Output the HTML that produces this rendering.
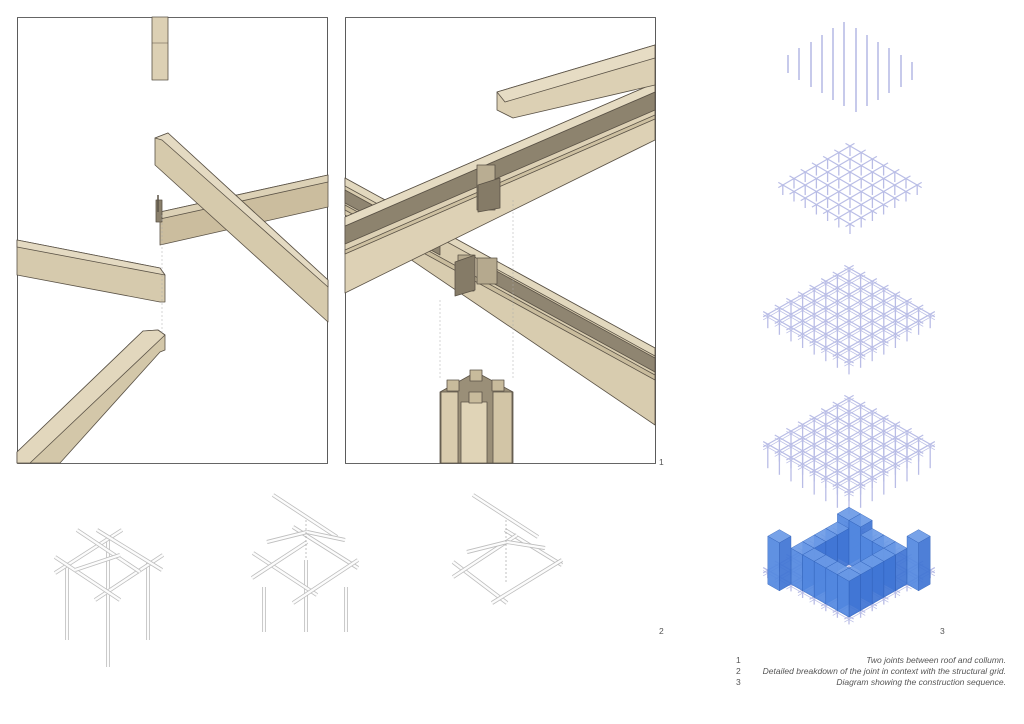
<!DOCTYPE html>
<html><head><meta charset="utf-8"><style>
html,body{margin:0;padding:0;background:#fff;}
body{width:1024px;height:724px;overflow:hidden;position:relative;font-family:"Liberation Sans",sans-serif;}
svg{position:absolute;left:0;top:0;}
.cap{position:absolute;font-size:8.5px;color:#555;font-style:italic;}
.num{position:absolute;font-size:8.5px;color:#555;}
</style></head><body>
<svg id="s" width="1024" height="724" viewBox="0 0 1024 724">
<g stroke="#5a5246" stroke-width="0.8" stroke-linejoin="round">
<!-- LEFT PANEL -->
<rect x="17.5" y="17.5" width="310" height="446" fill="#fff" stroke="#333"/>
<rect x="152" y="17" width="16" height="63" fill="#dcd0b4"/>
<line x1="152" y1="43" x2="168" y2="43" stroke-width="0.5"/>
<polygon points="160,212 328,175 328,207 160,245" fill="#cbbd9e"/>
<polygon points="160,212 328,175 328,182 160,219" fill="#dcd1b6"/>
<rect x="156" y="200" width="6" height="22" fill="#8a806c"/>
<line x1="158" y1="195" x2="158" y2="212" stroke-width="1.5"/>
<polygon points="155,138 168,133 328,280 328,322 155,165" fill="#d6caac"/>
<polygon points="155,138 168,133 328,280 328,287 162,140" fill="#e4dac2"/>
<polygon points="17,240 160,268 165,275 165,302 160,302 17,275" fill="#d6caad"/>
<polygon points="17,240 160,268 165,275 17,247" fill="#e4dac2"/>
<polygon points="143,331 158,330 165,335 165,350 160,352 60,463 17,463 17,452" fill="#d3c7a9"/>
<polygon points="143,331 158,330 165,335 30,463 17,463 17,452" fill="#e2d7bd"/>
<line x1="162" y1="215" x2="162" y2="335" stroke="#aaa" stroke-width="0.5" stroke-dasharray="2,2"/>

<!-- RIGHT PANEL -->
<rect x="345.5" y="17.5" width="310" height="446" fill="#fff" stroke="#333"/>
<!-- lower beam -->
<polygon points="345,178 655,348 655,425 345,215" fill="#d8ccaf"/>
<polygon points="345,178 655,348 655,356 345,186" fill="#e2d8be"/>
<polygon points="480,262 655,358 655,372 480,276" fill="#8f8571"/>
<polygon points="345,190 440,242 440,255 345,203" fill="#8f8571"/>
<polygon points="345,205 655,375 655,380 345,210" fill="#c9bc9d"/>
<rect x="458" y="255" width="16" height="36" fill="#b5a98e"/>
<rect x="477" y="258" width="20" height="26" fill="#b5a98e"/>
<polygon points="455,262 475,255 475,290 455,296" fill="#857b67"/>
<!-- upper beam -->
<polygon points="345,217 655,83 655,140 345,293" fill="#ddd1b5"/>
<polygon points="345,226 655,92 655,110 345,244" fill="#8d836e"/>
<polygon points="345,217 655,83 655,92 345,226" fill="#e5dbc2"/>
<polygon points="345,250 655,115 655,119 345,254" fill="#cdc0a1"/>
<rect x="477" y="165" width="18" height="45" fill="#b9ad92"/>
<polygon points="478,185 500,178 500,208 478,212" fill="#857b67"/>
<!-- top short beam -->
<polygon points="497,92 655,45 655,85 513,118 497,110" fill="#dcd0b4"/>
<polygon points="497,92 655,45 655,58 505,102" fill="#e6dcc4"/>
<line x1="440" y1="300" x2="440" y2="380" stroke="#aaa" stroke-width="0.5" stroke-dasharray="2,2"/>
<line x1="513" y1="200" x2="513" y2="380" stroke="#aaa" stroke-width="0.5" stroke-dasharray="2,2"/>
<!-- column -->
<polygon points="440,392 476,372 513,392 513,463 440,463" fill="#9a8f78"/>
<rect x="441" y="392" width="17" height="71" fill="#d9ccae"/>
<rect x="461" y="402" width="26" height="61" fill="#e0d4b7"/>
<rect x="493" y="392" width="19" height="71" fill="#d2c5a6"/>
<rect x="447" y="380" width="12" height="11" fill="#c8bb9c"/>
<rect x="470" y="370" width="12" height="11" fill="#c8bb9c"/>
<rect x="492" y="380" width="12" height="11" fill="#c8bb9c"/>
<rect x="469" y="392" width="13" height="11" fill="#c8bb9c"/>
</g>
<g id="sk" fill="none"></g>
<g id="gr" fill="none"></g>
</svg>
<div class="num" style="left:659px;top:457px">1</div>
<div class="num" style="left:659px;top:626px">2</div>
<div class="num" style="left:940px;top:626px">3</div>
<div class="num" style="left:736px;top:655px">1</div>
<div class="num" style="left:736px;top:666px">2</div>
<div class="num" style="left:736px;top:677px">3</div>
<div class="cap" style="right:18px;top:655px">Two joints between roof and collumn.</div>
<div class="cap" style="right:18px;top:666px">Detailed breakdown of the joint in context with the structural grid.</div>
<div class="cap" style="right:18px;top:677px">Diagram showing the construction sequence.</div>
<script>
var NS="http://www.w3.org/2000/svg";
function L(g,x1,y1,x2,y2,c,w,da){var l=document.createElementNS(NS,"line");l.setAttribute("x1",x1);l.setAttribute("y1",y1);l.setAttribute("x2",x2);l.setAttribute("y2",y2);l.setAttribute("stroke",c);l.setAttribute("stroke-width",w);if(da)l.setAttribute("stroke-dasharray",da);g.appendChild(l);}
function P(g,pts,f,op){var p=document.createElementNS(NS,"polygon");p.setAttribute("points",pts.map(function(a){return a[0].toFixed(1)+","+a[1].toFixed(1)}).join(" "));p.setAttribute("fill",f);p.setAttribute("stroke","#2f5fb8");p.setAttribute("stroke-width","0.4");if(op)p.setAttribute("fill-opacity",op);g.appendChild(p);}
var sk=document.getElementById("sk"),gr=document.getElementById("gr");
function B(a,b,c,d){L(sk,a,b,c,d,"#bdbdbd",4);L(sk,a,b,c,d,"#fcfcfc",2.4);}
[[108,538,108,667],[67,563,67,640],[148,563,148,640]].forEach(function(s){B.apply(null,s)});
[[55,573,122,530],[95,600,163,555],[55,557,120,600],[77,530,140,572],[97,530,162,570],[75,570,120,555]].forEach(function(s){B.apply(null,s)});
[[264,587,264,632],[306,560,306,632],[346,587,346,632]].forEach(function(s){B.apply(null,s)});
[[273,495,337,537],[253,553,317,595],[293,527,358,568],[252,578,307,542],[293,603,358,560],[267,542,307,532],[307,532,345,540]].forEach(function(s){B.apply(null,s)});
[[473,495,538,537],[453,562,507,603],[505,530,562,565],[453,577,517,535],[492,603,562,560],[467,552,507,542],[507,542,545,548]].forEach(function(s){B.apply(null,s)});
L(sk,506,520,506,582,"#999",0.6,"2,2");
L(sk,306,520,306,560,"#999",0.6,"2,2");
var d1=[[788,55,73],[799,48,80],[811,42,87],[822,35,93],[833,28,100],[844,22,106],[856,28,112],[867,35,106],[878,42,100],[889,48,93],[901,55,87],[912,62,80]];
d1.forEach(function(d){L(gr,d[0],d[1],d[0],d[2],"#b9bde6",1.6);});
var GC="#b9bde6";
function grid(cx,ty,a,b,n,post,dbl){
 for(var k=0;k<(dbl?2:1);k++){var oy=ty+k*3;
 for(var i=0;i<=n;i++){
  var x0=cx+i*a, y0=oy+i*b;
  L(gr,x0+0.4*a,y0-0.4*b,x0-(n+0.4)*a,y0+(n+0.4)*b,GC,k?0.7:1.2);
  var x1=cx-i*a;
  L(gr,x1-0.4*a,y0-0.4*b,x1+(n+0.4)*a,y0+(n+0.4)*b,GC,k?0.7:1.2);
 }}
 if(post){for(var i=0;i<=n;i++)for(var j=0;j<=n;j++){var x=cx+(i-j)*a,y=ty+(i+j)*b;L(gr,x,y,x,y+post,GC,1.3);}}
}
grid(850,146,11.2,6.5,6,10,false);
grid(849,268,11.6,6.6,7,14,true);
grid(849,398,11.6,6.6,7,24,true);
grid(849,524,11.6,6.6,7,8,true);
function pt(i,j){return [849+(i-j)*11.6,524+(i+j)*6.6];}
function box(i,j,di,dj,h,dz){
 var A=pt(i,j),Bq=pt(i+di,j),C=pt(i+di,j+dj),D=pt(i,j+dj);
 function u(p,z){return [p[0],p[1]-z];}
 P(gr,[u(Bq,dz),u(C,dz),u(C,h),u(Bq,h)],"#3f74d4",0.92);
 P(gr,[u(D,dz),u(C,dz),u(C,h),u(D,h)],"#5288e0",0.92);
 P(gr,[u(A,h),u(Bq,h),u(C,h),u(D,h)],"#6b9ae6",0.92);
}
var cells=[];
for(var i=1;i<6;i++)for(var j=1;j<6;j++){if(i>=2&&i<=4&&j>=2&&j<=4)continue;cells.push([i,j]);}
cells.push([0,6]);cells.push([6,0]);
cells.sort(function(p,q){return (p[0]+p[1])-(q[0]+q[1]);});
cells.forEach(function(c){var h=(c[0]<=2&&c[1]==1)?30:22; if(c[0]==0||c[1]==0)h=34; box(c[0],c[1],1,1,h,-14);});
</script>
</body></html>
